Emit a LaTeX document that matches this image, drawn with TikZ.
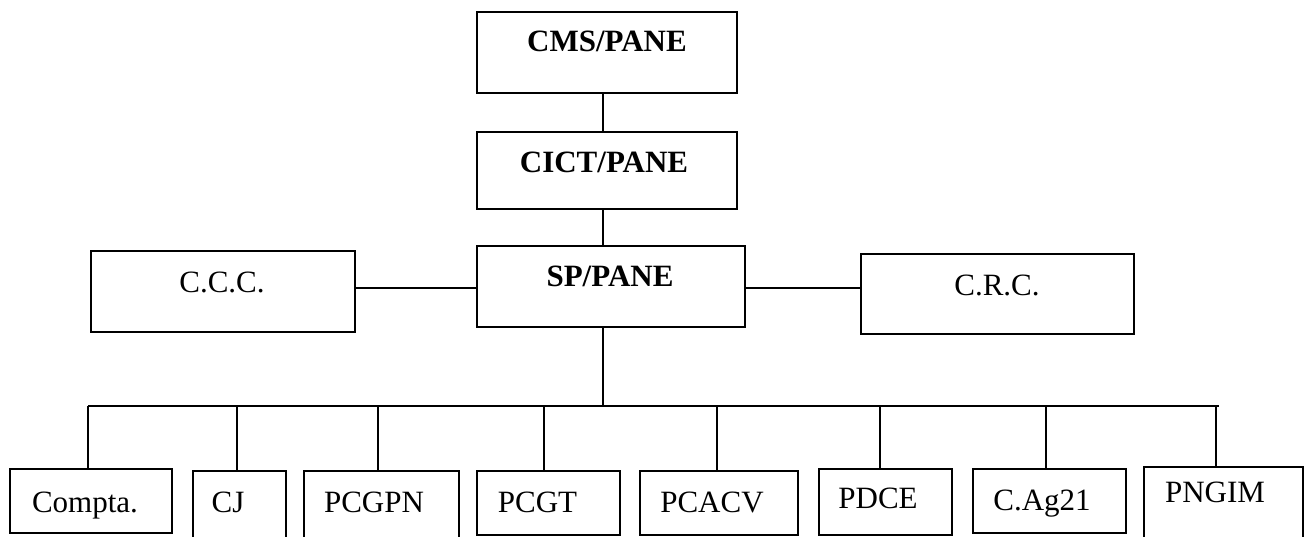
\documentclass[tikz,border=0pt]{standalone}
\usepackage{fontspec}
\setmainfont{Liberation Serif}
\begin{document}
\begin{tikzpicture}[x=1pt,y=-1pt,
  box/.style={draw, line width=1.6pt, inner sep=0pt, outer sep=0pt},
  lbl/.style={inner sep=0pt, anchor=base, font=\fontsize{31}{37}\selectfont},
  blbl/.style={lbl, font=\fontsize{31}{37}\selectfont\bfseries},
  conn/.style={line width=1.6pt}]
\useasboundingbox (0,0) rectangle (1309,537);
% boxes
\node[box, minimum width=260pt, minimum height=81pt] (cms) at (607,52.5) {};
\node[box, minimum width=260pt, minimum height=77pt] (cict) at (607,170.5) {};
\node[box, minimum width=268pt, minimum height=81pt] (sp) at (611,286.5) {};
\node[box, minimum width=264pt, minimum height=81pt] (ccc) at (223,291.5) {};
\node[box, minimum width=273pt, minimum height=80pt] (crc) at (997.5,294) {};
\node[box, minimum width=162pt, minimum height=64pt] (compta) at (91,501) {};
\node[box, minimum width=93pt, minimum height=70pt] (cj) at (239.5,506) {};
\node[box, minimum width=155pt, minimum height=70pt] (pcgpn) at (381.5,506) {};
\node[box, minimum width=143pt, minimum height=64pt] (pcgt) at (548.5,503) {};
\node[box, minimum width=158pt, minimum height=64pt] (pcacv) at (719,503) {};
\node[box, minimum width=133pt, minimum height=66pt] (pdce) at (885.5,502) {};
\node[box, minimum width=153pt, minimum height=64pt] (cag) at (1049.5,501) {};
\node[box, minimum width=159pt, minimum height=76pt] (pngim) at (1223.5,505) {};
% labels
\node[blbl] (tcms) at (607,52) {CMS/PANE};
\node[blbl] (tcict) at (604,173) {CICT/PANE};
\node[blbl] (tsp) at (610,287) {SP/PANE};
\node[lbl] (tccc) at (222,293) {C.C.C.};
\node[lbl] (tcrc) at (997,295) {C.R.C.};
\node[lbl] (tcompta) at (85,512) {Compta.};
\node[lbl] (tcj) at (228,512) {CJ};
\node[lbl] (tpcgpn) at (374,512) {PCGPN};
\node[lbl] (tpcgt) at (537.5,512) {PCGT};
\node[lbl] (tpcacv) at (712,512) {PCACV};
\node[lbl] (tpdce) at (878,508) {PDCE};
\node[lbl] (tcag) at (1042,510) {C.Ag21};
\node[lbl] (tpngim) at (1215,502) {PNGIM};
% connectors
\coordinate (spine) at (603,0);
\coordinate (hl) at (0,288);
\coordinate (busL) at (88,406);
\coordinate (busR) at (1219,406);
\draw[conn] (cms.south -| spine) -- (cict.north -| spine);
\draw[conn] (cict.south -| spine) -- (sp.north -| spine);
\draw[conn] (ccc.east |- hl) -- (sp.west |- hl);
\draw[conn] (sp.east |- hl) -- (crc.west |- hl);
\draw[conn] (sp.south -| spine) -- (spine |- busL);
\draw[conn] (busL) -- (busR);
\coordinate (d1) at (88,406);
\coordinate (d2) at (237,406);
\coordinate (d3) at (378,406);
\coordinate (d4) at (544,406);
\coordinate (d5) at (717,406);
\coordinate (d6) at (880,406);
\coordinate (d7) at (1046,406);
\coordinate (d8) at (1216,406);
\draw[conn] (d1) -- (compta.north -| d1);
\draw[conn] (d2) -- (cj.north -| d2);
\draw[conn] (d3) -- (pcgpn.north -| d3);
\draw[conn] (d4) -- (pcgt.north -| d4);
\draw[conn] (d5) -- (pcacv.north -| d5);
\draw[conn] (d6) -- (pdce.north -| d6);
\draw[conn] (d7) -- (cag.north -| d7);
\draw[conn] (d8) -- (pngim.north -| d8);
\end{tikzpicture}
\end{document}
